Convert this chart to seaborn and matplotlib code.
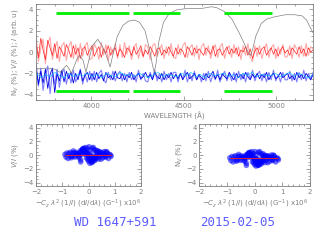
import numpy as np
import pandas as pd
import matplotlib
matplotlib.use("Agg")
import matplotlib.pyplot as plt
import seaborn as sns
from matplotlib.ticker import MultipleLocator

# ---- spectrum (top panel) ----
WAVE_MIN, WAVE_MAX = 3700, 5200

vi_main = [
    0.9, -0.5, 1.3, 0.2, -0.7, 1.1, 0.4, -0.3, 0.8, -0.6, 0.5, 0.1,
    -0.4, 0.7, 0.2, -0.5, 0.6, -0.2, 0.4, -0.6, 0.3, 0.5, -0.3, 0.2,
    0.6, -0.4, 0.1, 0.5, -0.5, 0.3, -0.1, 0.6, -0.3, 0.2, 0.4, -0.4,
    0.3, 0.0, -0.5, 0.4, 0.2, -0.3, 0.5, -0.2, 0.1, 0.6, -0.4, 0.2,
    -0.2, 0.5, 0.1, -0.4, 0.3, 0.4, -0.3, 0.2, -0.1, 0.5, 0.0, -0.4,
    0.4, -0.2, 0.3, 0.1, -0.5, 0.5, 0.2, -0.3, 0.4, -0.1, 0.3, 0.0,
    -0.3, 0.4, 0.1, -0.2, 0.6, -0.4, 0.2, 0.3, -0.3, 0.1, 0.5, -0.2,
    0.3, -0.1, 0.4, -0.4, 0.2, 0.0, 0.5, -0.3, 0.3, -0.6, 0.1, 0.4,
    -0.2, 0.3, 0.5, -0.3, 0.1, 0.4, -0.2, 0.3, -0.4, 0.2, 0.5, -0.1,
    0.2, -0.3, 0.4, 0.1, -0.2, 0.5, -0.1, 0.3, -0.4, 0.4, 0.0, 0.2,
]
vi_wide = [
    1.5, -0.9, 0.4, 1.2, -1.1, 0.8, 1.4, -0.7, 0.3, 1.0, -0.9, 0.6,
    0.9, -0.8, 0.5, 1.0, -0.6, 0.7, -0.9, 0.8, -0.4, 0.6, 0.9, -0.7,
    -0.6, 0.8, 0.3, -0.7, 0.9, -0.3, 0.7, -0.8, 0.5, -0.2, 0.8, -0.6,
    0.7, -0.5, 0.9, -0.2, 0.6, -0.7, 0.4, 0.8, -0.6, 0.3, -0.5, 0.7,
    0.5, -0.7, 0.6, 0.8, -0.4, 0.2, 0.7, -0.6, 0.5, -0.3, 0.8, -0.5,
    -0.6, 0.7, -0.2, 0.6, 0.9, -0.5, 0.4, 0.7, -0.4, 0.6, -0.7, 0.5,
    0.8, -0.3, 0.6, -0.6, 0.2, 0.7, -0.5, 0.5, 0.8, -0.6, 0.3, 0.6,
    -0.5, 0.7, -0.2, 0.5, -0.7, 0.6, -0.3, 0.8, -0.5, -0.9, 0.6, -0.4,
    0.6, -0.6, 0.2, 0.8, -0.5, 0.4, 0.7, -0.6, 0.5, -0.2, 0.7, -0.5,
    -0.4, 0.6, -0.6, 0.7, 0.3, -0.5, 0.6, -0.4, 0.8, -0.3, 0.5, 0.3,
]
nv_main = [
    -1.4, -3.0, -1.8, -2.9, -1.6, -3.4, -2.1, -1.5, -3.8, -2.0, -2.7, -1.7,
    -2.8, -1.8, -2.5, -1.9, -2.9, -2.0, -2.6, -1.7, -2.7, -2.2, -1.9, -2.6,
    -2.0, -2.6, -1.9, -2.5, -2.1, -2.7, -1.9, -2.4, -2.2, -2.6, -1.8, -2.4,
    -2.5, -2.0, -2.6, -2.1, -2.4, -1.9, -2.6, -2.2, -2.0, -2.5, -2.3, -1.9,
    -2.4, -2.1, -2.6, -1.9, -2.3, -2.5, -2.0, -2.6, -2.1, -2.4, -1.9, -2.5,
    -2.1, -2.5, -2.0, -2.6, -2.2, -1.9, -2.5, -2.3, -2.0, -2.6, -2.1, -2.4,
    -2.6, -2.0, -2.4, -2.2, -1.8, -2.5, -2.1, -2.6, -2.0, -2.3, -2.5, -1.9,
    -2.3, -2.6, -2.0, -2.4, -2.1, -2.5, -1.9, -2.3, -2.6, -2.1, -2.4, -2.0,
    -2.5, -2.1, -2.4, -1.9, -2.6, -2.2, -2.0, -2.5, -2.3, -1.9, -2.4, -2.2,
    -2.0, -2.5, -2.2, -2.6, -1.9, -2.4, -2.1, -2.5, -2.0, -2.3, -2.6, -2.1,
]
nv_wide = [
    -1.2, -3.2, -1.5, -3.6, -2.2, -1.3, -3.9, -1.9, -3.0, -1.6, -3.3, -2.0,
    -1.6, -3.0, -2.0, -2.9, -1.7, -2.8, -2.3, -1.6, -3.0, -2.0, -2.8, -1.8,
    -2.7, -1.8, -2.8, -2.0, -1.7, -2.6, -2.9, -1.9, -2.6, -1.8, -2.7, -2.1,
    -1.8, -2.7, -2.0, -2.8, -1.9, -2.6, -2.1, -2.8, -1.7, -2.6, -2.0, -2.7,
    -2.8, -1.9, -2.5, -1.7, -2.7, -2.0, -2.8, -1.8, -2.6, -2.0, -2.8, -1.9,
    -1.9, -2.8, -2.0, -2.5, -1.7, -2.8, -2.0, -2.7, -1.8, -2.6, -2.1, -2.8,
    -2.0, -2.7, -1.8, -2.8, -2.1, -2.6, -1.7, -2.8, -2.2, -1.8, -2.7, -2.0,
    -2.7, -1.9, -2.8, -1.8, -2.6, -2.0, -2.8, -1.9, -2.5, -1.7, -2.7, -2.1,
    -1.8, -2.7, -2.0, -2.8, -1.9, -2.6, -1.7, -2.7, -2.1, -2.8, -1.9, -2.6,
    -2.6, -1.8, -2.7, -2.0, -2.8, -1.9, -2.6, -1.7, -2.7, -2.0, -2.5, -1.9,
]
nv_cyan = [
    -2.0, -2.4, -2.1, -2.3, -1.9, -2.2, -2.4, -2.0, -2.3, -2.1,
    -2.2, -2.0, -2.3, -2.1, -2.4, -2.0, -2.2, -2.3, -1.9, -2.2,
    -2.1, -2.3, -2.0, -2.2, -2.4, -2.1, -1.9, -2.3, -2.1, -2.2,
    -2.3, -2.0, -2.2, -1.9, -2.3, -2.1, -2.4, -2.0, -2.2, -2.1,
    -2.0, -2.3, -2.1, -2.4, -2.0, -2.2, -1.9, -2.3, -2.1, -2.2,
    -2.2, -2.0, -2.3, -2.1, -1.9, -2.3, -2.0, -2.2, -2.4, -2.1,
]

# scaled intensity spectrum (grey)
flux_wave = [3700, 3760, 3800, 3830, 3845, 3865, 3880, 3890, 3900, 3920,
             3937, 3955, 3970, 3985, 4005, 4034, 4060, 4080, 4101, 4115,
             4140, 4170, 4200, 4232, 4260, 4290, 4315, 4330, 4340, 4350,
             4365, 4390, 4420, 4460, 4500, 4550, 4600, 4650, 4680, 4720,
             4760, 4800, 4830, 4850, 4861, 4872, 4890, 4920, 4950, 4990,
             5050, 5100, 5140, 5165, 5185, 5200]
flux = [-1.6, -1.5, -1.6, -1.9, -1.6, -1.25, -1.6, -2.0, -1.6, -0.7,
        -0.3, -0.8, -1.9, -0.8, 0.6, 1.2, 0.5, -0.3, -1.4, -0.3,
        1.5, 2.5, 2.9, 3.0, 2.8, 2.0, 0.2, -1.2, -1.9, -1.0,
        1.0, 2.8, 3.6, 3.95, 4.05, 4.1, 4.1, 4.25, 4.15, 3.8,
        3.1, 1.8, 0.7, -0.1, -0.3, 0.2, 1.5, 2.7, 3.1, 3.3,
        3.5, 3.5, 3.4, 3.0, 2.3, 1.8]

# continuum windows (green)
win_start = [3810, 4223, 4720]
win_end = [4205, 4482, 4975]
win_level = 3.65

# ---- regression panels ----
sx = [
    -0.05, 0.10, -0.20, 0.25, 0.02, -0.30, 0.35, -0.12, 0.18, 0.05,
    -0.25, 0.30, -0.08, 0.14, -0.38, 0.42, 0.00, -0.16, 0.22, 0.08,
    -0.34, 0.28, -0.02, 0.12, -0.22, 0.38, -0.10, 0.20, -0.42, 0.46,
    0.04, -0.18, 0.26, -0.28, 0.16, -0.06, 0.32, -0.36, 0.06, 0.24,
    -0.14, 0.44, -0.40, 0.10, -0.24, 0.34, 0.00, -0.32, 0.18, -0.04,
    0.50, -0.46, 0.28, -0.20, 0.14, -0.10, 0.36, -0.30, 0.08, 0.22,
    -0.55, 0.55, -0.62, 0.60, -0.70, 0.66, -0.78, 0.72, -0.86, 0.80,
    -0.50, 0.52, -0.58, 0.64, -0.66, 0.70, -0.74, 0.76, -0.90, 0.84,
    -0.48, 0.48, -0.52, 0.58, -0.60, 0.62, -0.68, 0.68, -0.82, 0.86,
    0.02, -0.08, 0.12, -0.16, 0.20, -0.26, 0.30, -0.34, 0.40, 0.44,
]
sy_vi = [
    0.9, -0.8, 0.4, -0.3, 1.2, -1.0, 0.6, 0.1, -0.6, -1.2,
    0.7, 0.3, -0.4, 1.0, -0.2, 0.5, -0.9, 0.8, -0.7, 0.2,
    0.3, -0.5, 0.0, -1.1, 0.9, -0.6, 1.1, -0.3, 0.2, 0.4,
    -0.7, 1.0, 0.6, 0.5, -0.9, 0.3, -0.2, -0.4, 0.7, -0.8,
    0.5, -0.1, 0.1, -0.5, 0.8, 0.2, -0.3, 0.6, 1.1, -0.6,
    0.1, 0.2, -0.4, 0.9, -1.0, 0.6, 0.4, -0.7, -0.2, 0.8,
    0.3, -0.4, -0.2, 0.5, 0.4, -0.3, -0.5, 0.2, -0.3, 0.1,
    -0.1, 0.3, 0.6, -0.2, -0.4, 0.4, 0.2, -0.5, 0.1, 0.0,
    0.4, -0.6, -0.3, 0.2, 0.3, -0.1, -0.2, 0.5, 0.3, -0.2,
    0.0, 0.3, -0.2, 0.5, -0.4, 0.1, 0.7, 0.0, -0.3, 0.2,
]
sy_nv = [
    0.2, -1.3, -0.2, -0.9, 0.5, -1.5, 0.0, -0.4, -1.1, -1.6,
    0.1, -0.3, -1.0, 0.4, -0.8, -0.1, -1.4, 0.3, -1.2, -0.5,
    -0.2, -1.0, -0.6, -1.5, 0.3, -1.1, 0.5, -0.8, -0.3, -0.1,
    -1.2, 0.4, 0.0, -0.1, -1.4, -0.3, -0.7, -0.9, 0.1, -1.3,
    -0.1, -0.6, -0.4, -1.0, 0.2, -0.3, -0.8, 0.0, 0.5, -1.1,
    -0.4, -0.3, -0.9, 0.3, -1.5, 0.0, -0.2, -1.2, -0.7, 0.2,
    -0.2, -0.9, -0.7, 0.0, -0.1, -0.8, -1.0, -0.3, -0.8, -0.4,
    -0.6, -0.2, 0.1, -0.7, -0.9, -0.1, -0.3, -1.0, -0.4, -0.5,
    -0.1, -1.1, -0.8, -0.3, -0.2, -0.6, -0.7, 0.0, -0.2, -0.7,
    -0.5, -0.2, -0.7, 0.0, -0.9, -0.4, 0.2, -0.5, -0.8, -0.3,
]
fit_vi = (0.0, 0.0)     # slope, intercept
fit_nv = (0.0, -0.5)

title_star = "WD 1647+591"
title_date = "2015-02-05"

GREY = "#808080"

sns.set_style("ticks")
plt.rcParams["font.family"] = ["DejaVu Sans"]
plt.rcParams["mathtext.fontset"] = "dejavusans"


def style_axes(ax, xmaj, xmin, ymaj, ymin):
    ax.xaxis.set_major_locator(MultipleLocator(xmaj))
    ax.xaxis.set_minor_locator(MultipleLocator(xmin))
    ax.yaxis.set_major_locator(MultipleLocator(ymaj))
    ax.yaxis.set_minor_locator(MultipleLocator(ymin))
    ax.tick_params(which="both", direction="in", top=True, right=True,
                   colors=GREY, labelsize=5, width=0.5, pad=2)
    ax.tick_params(which="major", length=3)
    ax.tick_params(which="minor", length=1.5)
    for sp in ax.spines.values():
        sp.set_color(GREY)
        sp.set_linewidth(0.6)


fig = plt.figure(figsize=(3.14, 2.40), dpi=100)

# top panel
ax = fig.add_axes([0.115, 0.583, 0.882, 0.400])
wave = np.linspace(WAVE_MIN, WAVE_MAX, len(vi_main))
wave_c = np.linspace(WAVE_MIN, WAVE_MAX, len(nv_cyan))
spec = pd.DataFrame({"wave": wave, "vi_main": vi_main, "vi_wide": vi_wide,
                     "nv_main": nv_main, "nv_wide": nv_wide})

sns.lineplot(data=spec, x="wave", y="vi_wide", ax=ax, color="#ffa8a8", lw=0.8)
sns.lineplot(data=spec, x="wave", y="vi_main", ax=ax, color="#ff2020", lw=0.5)
sns.lineplot(data=spec, x="wave", y="nv_wide", ax=ax, color="#8080ff", lw=0.8)
sns.lineplot(data=spec, x="wave", y="nv_main", ax=ax, color="#0000e0", lw=0.6)
sns.lineplot(x=wave_c, y=nv_cyan, ax=ax, color="#00c8ff", lw=0.5, alpha=0.8)
sns.lineplot(x=flux_wave, y=flux, ax=ax, color=GREY, lw=0.5)
ax.hlines([win_level] * len(win_start), win_start, win_end, color="#00ee00", lw=2)
ax.hlines([-win_level] * len(win_start), win_start, win_end, color="#00ee00", lw=2)

ax.set_xlim(WAVE_MIN, WAVE_MAX)
ax.set_ylim(-4.5, 4.5)
style_axes(ax, 500, 100, 2, 0.5)
ax.set_xlabel("WAVELENGTH (Å)", fontsize=5, color=GREY, labelpad=2)
ax.set_ylabel("N$_V$ (%); $V/I$ (%); $I$ (arb. u)", fontsize=5, color=GREY, labelpad=2)

# regression panels
xlab = r"$-C_z$ $\lambda^2$ (1/$I$) (d$I$/d$\lambda$) (G$^{-1}$) x10$^6$"
panels = [
    ([0.115, 0.225, 0.334, 0.258], sy_vi, fit_vi, "$V/I$ (%)"),
    ([0.635, 0.225, 0.352, 0.258], sy_nv, fit_nv, "N$_V$ (%)"),
]
for rect, sy, fit, ylab in panels:
    a = fig.add_axes(rect)
    sns.scatterplot(x=sx, y=sy, ax=a, color="#0000ff", s=16, alpha=0.55,
                    edgecolor="none", legend=False)
    fx = np.array([min(sx), max(sx)])
    sns.lineplot(x=fx, y=fit[0] * fx + fit[1], ax=a, color="#ff2020", lw=0.6)
    a.set_xlim(-2, 2)
    a.set_ylim(-4.5, 4.5)
    style_axes(a, 1, 0.2, 2, 0.5)
    a.set_xlabel(xlab, fontsize=5, color=GREY, labelpad=2)
    a.set_ylabel(ylab, fontsize=5, color=GREY, labelpad=2)

fig.text(0.366, 0.075, title_star, fontsize=9, color="#5c5cff",
         family="DejaVu Sans Mono", ha="center", va="center")
fig.text(0.758, 0.075, title_date, fontsize=9, color="#5c5cff",
         family="DejaVu Sans Mono", ha="center", va="center")

fig.savefig("out.png", dpi=100)
